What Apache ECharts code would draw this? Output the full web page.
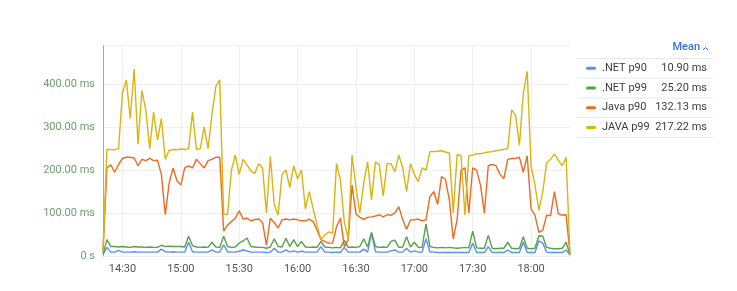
<!DOCTYPE html>
<html><head><meta charset="utf-8">
<script src="https://cdn.jsdelivr.net/npm/echarts@6/dist/echarts.min.js"></script>
<style>html,body{margin:0;padding:0;background:#fff}#c{width:737px;height:291px}</style>
</head><body><div id="c"></div>
<script>
// ---- data ----
const startTime = '2024-01-01T14:20:00Z';   // first sample
const stepMinutes = 2;                       // sampling step
const seriesNames = ['.NET p90', '.NET p99', 'Java p90', 'JAVA p99'];
const meanLabels = ['10.90 ms', '25.20 ms', '132.13 ms', '217.22 ms'];
const yTicks = [0, 100, 200, 300, 400];
const xTickLabels = ['14:30', '15:00', '15:30', '16:00', '16:30', '17:00', '17:30', '18:00'];

const netP90 = [3,20,9,9,13,9,9,9,10,9, 9,9,9,9,9,16,10,9,10,9, 9,9,32,10,9,9,9,9,14,9,
  9,26,10,9,9,11,14,12,9,9, 9,9,8,9,18,9,9,14,9,12, 9,11,9,9,9,9,22,9,9,8,
  9,8,20,9,9,9,9,16,9,54, 10,9,9,9,12,14,9,9,18,9, 12,9,9,40,10,9,8,8,8,8,
  8,8,8,8,8,30,8,8,8,22, 8,8,8,8,14,8,8,8,32,8, 8,8,35,30,9,8,8,8,8,14,2];
const netP99 = [5,38,22,22,21,22,21,20,22,21, 21,20,21,20,20,25,22,23,22,22, 22,21,46,24,21,20,21,20,32,21,
  20,46,22,20,21,30,35,42,22,21, 20,20,18,21,40,22,21,41,22,38, 22,34,21,20,21,20,34,21,20,19,
  20,19,37,20,21,20,22,40,21,55, 22,20,21,20,34,37,20,21,45,21, 32,20,20,75,22,20,19,20,19,20,
  19,18,19,20,19,58,19,18,18,48, 18,17,18,18,32,18,17,18,45,18, 17,18,47,46,20,18,17,17,18,32,3];
const javaP90 = [10,205,212,195,213,227,230,230,228,210, 225,222,227,222,223,190,96,170,205,175,
  165,205,210,205,225,215,205,222,225,230, 230,58,72,80,88,105,86,88,82,85,
  86,78,25,88,78,65,84,86,84,86, 84,82,82,86,80,60,38,34,30,30,
  68,88,22,37,165,98,90,85,90,91, 93,96,91,96,95,100,115,85,62,84,
  84,86,82,84,138,150,120,185,178,130, 40,85,200,205,100,205,200,165,100,210,
  213,210,190,180,225,227,227,230,195,233, 110,95,55,60,95,94,150,98,95,96,5];
const javaP99 = [10,248,248,247,250,380,410,320,435,260, 385,340,250,335,270,320,225,246,248,247,
  249,248,250,335,248,250,300,250,330,395, 410,97,97,200,235,190,225,212,198,192,
  215,205,100,232,120,95,190,200,160,210, 180,200,110,150,110,72,38,49,56,53,
  215,177,80,40,235,160,100,170,219,130, 219,212,140,215,215,196,235,206,150,215,
  190,173,205,200,243,243,244,245,242,240, 100,236,234,95,233,235,238,238,240,242,
  243,245,247,248,250,340,328,258,378,430, 209,165,106,150,217,225,237,223,210,230,5];

// ---- chart ----
const colors = ['#5b8ff0', '#54a24b', '#ee6a22', '#dbb40f'];
const seriesData = [netP90, netP99, javaP90, javaP99];
const t0 = Date.parse(startTime);
const stepMs = stepMinutes * 60000;
const pad = n => (n < 10 ? '0' : '') + n;
const fmtTime = v => { const d = new Date(v); return pad(d.getUTCHours()) + ':' + pad(d.getUTCMinutes()); };
const timeCategories = javaP99.map((_, k) => fmtTime(t0 + k * stepMs));
const isTick = (idx, val) => xTickLabels.indexOf(val) >= 0;

const font = 'Roboto, "Noto Sans", sans-serif';
const graphics = [];
// header
graphics.push({ type: 'text', right: 737 - 700, top: 42, style: { text: 'Mean', fill: '#3b70d6', font: '500 11px ' + font } });
graphics.push({ type: 'polyline', shape: { points: [[703, 50], [705.5, 47.5], [708, 50]] }, style: { stroke: '#3b70d6', lineWidth: 1, fill: null } });
// separators
const sepY = [58.5, 78, 98, 117.5, 137.5];
sepY.forEach(y => graphics.push({ type: 'line', shape: { x1: 577, y1: y, x2: 713, y2: y }, style: { stroke: '#e8e8e8', lineWidth: 1 } }));
seriesNames.forEach((name, i) => {
  const cy = 68.3 + i * 19.7;
  graphics.push({ type: 'rect', shape: { x: 586, y: cy - 1.5, width: 10, height: 3, r: 1.5 }, style: { fill: colors[i] } });
  graphics.push({ type: 'text', x: 602, y: cy, style: { text: name, fill: '#3d3d3d', font: '11px ' + font, textVerticalAlign: 'middle', verticalAlign: 'middle' } });
  graphics.push({ type: 'text', x: 707, y: cy, style: { text: meanLabels[i], fill: '#3d3d3d', font: '11px ' + font, textAlign: 'right', align: 'right', textVerticalAlign: 'middle', verticalAlign: 'middle' } });
});

const chart = echarts.init(document.getElementById('c'), null, { renderer: 'canvas' });
chart.setOption({
  animation: false,
  textStyle: { fontFamily: font },
  grid: { left: 103, right: 167, top: 45.5, bottom: 35, containLabel: false },
  xAxis: {
    type: 'category', data: timeCategories, boundaryGap: false,
    axisLine: { show: false }, axisTick: { show: false },
    splitLine: { show: true, interval: isTick, lineStyle: { color: '#efefef', width: 1 } },
    axisLabel: { color: '#555', fontSize: 11, margin: 8, interval: isTick, hideOverlap: false }
  },
  yAxis: {
    type: 'value', min: 0, max: 490, interval: 100,
    axisLine: { show: true, lineStyle: { color: '#8fc08a', width: 1 } },
    axisTick: { show: false },
    splitLine: { show: true, lineStyle: { color: '#efefef', width: 1 } },
    axisLabel: {
      color: '#6f9d6c', fontSize: 11, margin: 8,
      formatter: v => (yTicks.indexOf(v) < 0 ? '' : (v === 0 ? '0 s' : v.toFixed(2) + ' ms'))
    }
  },
  series: seriesData.map((arr, i) => ({
    name: seriesNames[i], type: 'line', showSymbol: false, symbol: 'none',
    lineStyle: { color: colors[i], width: 1.4 }, itemStyle: { color: colors[i] },
    data: arr
  })),
  graphic: graphics
});
</script>
</body></html>
